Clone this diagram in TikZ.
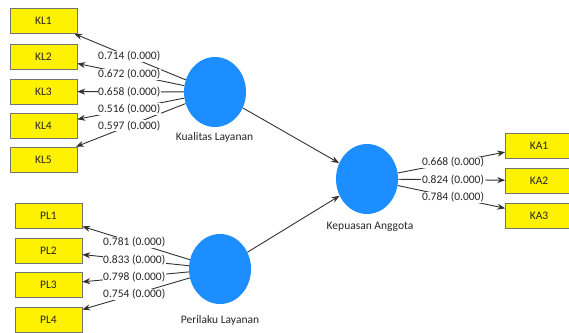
\documentclass[tikz,border=0pt]{standalone}
\usepackage{fontspec}
\setmainfont{Carlito}
\usetikzlibrary{calc,arrows.meta,shapes.geometric}
\definecolor{lvblue}{RGB}{28,142,255}
\definecolor{linegray}{RGB}{50,50,50}
\begin{document}
\begin{tikzpicture}[x=1pt,y=-1pt,
  every node/.style={font=\fontsize{11.5}{13}\selectfont, text=black!85},
  ind/.style={draw=black!55, line width=0.5pt, fill=yellow, minimum width=67pt, minimum height=25pt, inner sep=0pt},
  lv/.style={ellipse, fill=lvblue, minimum width=62pt, minimum height=70pt, inner sep=0pt},
  con/.style={draw=linegray, line width=0.9pt, -{Stealth[length=8pt,width=6pt]}},
  lbl/.style={fill=white, inner sep=0.6pt}]
\useasboundingbox (0,0) rectangle (569,332);
\fill[white] (0,0) rectangle (569,332);
\begin{scope}
\clip (0,0) rectangle (569,332);
% indicators
\node[ind] (kl1) at (43.5,21) {KL1};
\node[ind] (kl2) at (43.5,56.5) {KL2};
\node[ind] (kl3) at (43.5,91.5) {KL3};
\node[ind] (kl4) at (43.5,126) {KL4};
\node[ind] (kl5) at (43.5,159.5) {KL5};
\node[ind] (pl1) at (48.5,216) {PL1};
\node[ind] (pl2) at (48.5,251) {PL2};
\node[ind] (pl3) at (48.5,285) {PL3};
\node[ind] (pl4) at (48.5,319.5) {PL4};
\node[ind] (ka1) at (539,145.5) {KA1};
\node[ind] (ka2) at (539,180.5) {KA2};
\node[ind] (ka3) at (539,215.5) {KA3};
% latent variables
\node[lv] (klc) at (215,92) {};
\node[lv] (plc) at (220,269) {};
\node[lv] (kac) at (367,179) {};
\node (kln) at (214.5,137.5) {Kualitas Layanan};
\node (pln) at (220,320) {Perilaku Layanan};
\node (kan) at (370,227) {Kepuasan Anggota};
% connectors
\foreach \b in {kl1,kl2,kl3,kl4,kl5} \draw[con] (klc) -- (\b);
\foreach \b in {pl1,pl2,pl3,pl4} \draw[con] (plc) -- (\b);
\foreach \b in {ka1,ka2,ka3} \draw[con] (kac) -- (\b);
\draw[con] (klc) -- (kac);
\draw[con] (plc) -- (kac);
% loadings
\node[lbl] (l1) at ($(kl1)!0.5!(klc)$) {0.714 (0.000)};
\node[lbl] (l2) at ($(kl2)!0.5!(klc)$) {0.672 (0.000)};
\node[lbl] (l3) at ($(kl3)!0.5!(klc)$) {0.658 (0.000)};
\node[lbl] (l4) at ($(kl4)!0.5!(klc)$) {0.516 (0.000)};
\node[lbl] (l5) at ($(kl5)!0.5!(klc)$) {0.597 (0.000)};
\node[lbl] (p1) at ($(pl1)!0.5!(plc)$) {0.781 (0.000)};
\node[lbl] (p2) at ($(pl2)!0.5!(plc)$) {0.833 (0.000)};
\node[lbl] (p3) at ($(pl3)!0.5!(plc)$) {0.798 (0.000)};
\node[lbl] (p4) at ($(pl4)!0.5!(plc)$) {0.754 (0.000)};
\node[lbl] (a1) at ($(ka1)!0.5!(kac)$) {0.668 (0.000)};
\node[lbl] (a2) at ($(ka2)!0.5!(kac)$) {0.824 (0.000)};
\node[lbl] (a3) at ($(ka3)!0.5!(kac)$) {0.784 (0.000)};
\end{scope}
\end{tikzpicture}
\end{document}
